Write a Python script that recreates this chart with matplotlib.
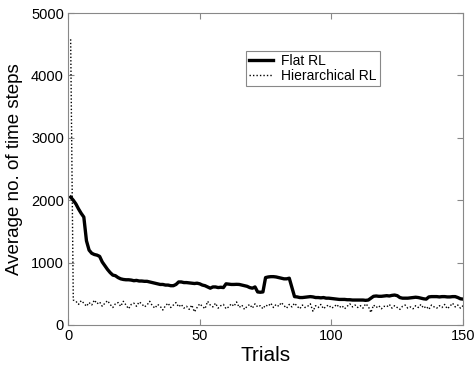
import matplotlib
matplotlib.use("Agg")
import matplotlib.pyplot as plt
import numpy as np

plt.rcParams['font.family'] = ['Liberation Sans', 'DejaVu Sans']

trials = np.arange(1, 151)

flat_rl = [2050, 2000, 1940, 1860, 1790, 1730, 1350, 1200, 1150, 1130,
           1120, 1100, 1010, 950, 890, 840, 800, 790, 760, 740,
           730, 725, 725, 720, 710, 715, 705, 705, 700, 700,
           690, 680, 670, 660, 650, 650, 640, 640, 630, 630,
           650, 690, 690, 680, 680, 675, 670, 665, 670, 660,
           640, 630, 610, 590, 610, 610, 600, 605, 600, 660,
           655, 650, 650, 652, 650, 640, 630, 620, 600, 590,
           610, 530, 525, 530, 760, 770, 775, 775, 770, 760,
           750, 740, 740, 750, 600, 455, 450, 440, 440, 445,
           450, 455, 450, 440, 440, 435, 440, 430, 430, 425,
           420, 415, 410, 410, 410, 405, 405, 400, 400, 400,
           400, 400, 395, 400, 430, 460, 465, 460, 460, 465,
           470, 465, 475, 480, 470, 440, 430, 430, 430, 435,
           440, 445, 440, 430, 420, 415, 450, 455, 455, 455,
           450, 455, 455, 450, 450, 455, 455, 440, 420, 415]

hier_rl = [4580, 400, 380, 330, 390, 350, 300, 360, 320, 400,
           340, 370, 300, 350, 390, 330, 280, 340, 360, 300,
           380, 320, 260, 330, 350, 300, 370, 340, 290, 320,
           380, 310, 270, 330, 300, 240, 310, 350, 280, 320,
           360, 290, 330, 270, 300, 250, 320, 210, 280, 340,
           300, 260, 380, 320, 290, 350, 270, 310, 330, 260,
           290, 340, 300, 370, 280, 320, 250, 300, 330, 270,
           340, 290, 310, 260, 320, 300, 350, 280, 330, 300,
           360, 310, 270, 330, 290, 350, 300, 260, 320, 280,
           300, 340, 220, 310, 280, 330, 260, 300, 320, 270,
           290, 330, 280, 310, 260, 300, 340, 290, 320, 280,
           310, 270, 340, 300, 200, 320, 280, 310, 260, 300,
           290, 330, 270, 310, 280, 250, 300, 320, 270, 290,
           260, 310, 280, 330, 270, 300, 250, 320, 290, 270,
           310, 280, 330, 260, 300, 350, 290, 320, 270, 310]

fig = plt.figure(figsize=(4.74, 3.65), dpi=100)
ax = fig.add_axes([0.1435, 0.1096, 0.8335, 0.8545])

ax.plot(trials, flat_rl, color='black', linewidth=2.4, label='Flat RL')
ax.plot(trials, hier_rl, color='black', linewidth=1.0, linestyle=(0, (1, 1.5)),
        label='Hierarchical RL')

ax.set_xlim(0, 150)
ax.set_ylim(0, 5000)
ax.set_xticks([0, 50, 100, 150])
ax.set_yticks([0, 1000, 2000, 3000, 4000, 5000])
ax.tick_params(direction='in', top=True, right=True, labelsize=10.5,
               color='#888888', length=4, pad=3)
for sp in ax.spines.values():
    sp.set_color('#888888')
    sp.set_linewidth(0.8)

ax.set_xlabel('Trials', fontsize=15, labelpad=2)
ax.set_ylabel('Average no. of time steps', fontsize=13.5, labelpad=6)

leg = ax.legend(loc='upper left', bbox_to_anchor=(0.519, 0.861),
                bbox_transform=fig.transFigure, borderaxespad=0,
                fancybox=False, edgecolor='#888888', framealpha=1,
                fontsize=10, handlelength=1.7, borderpad=0.25,
                labelspacing=0.05, handletextpad=0.6)
leg.get_frame().set_linewidth(0.8)

fig.savefig('out.png', dpi=100)
